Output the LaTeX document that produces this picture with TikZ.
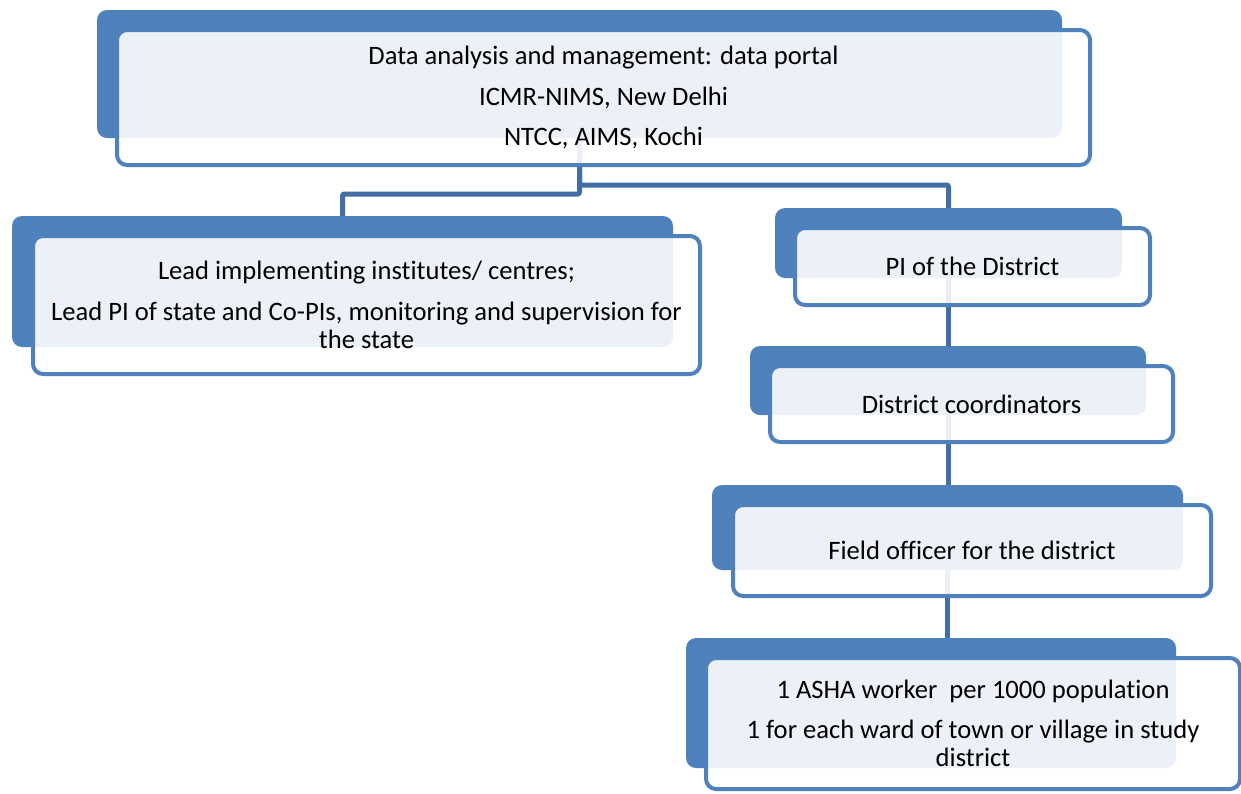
\documentclass[tikz,border=0pt]{standalone}
\usepackage{fontspec}
\setmainfont{Carlito}[Ligatures=NoCommon]
\pgfdeclarelayer{bg}
\pgfsetlayers{bg,main}
\definecolor{boxblue}{RGB}{79,129,189}
\definecolor{connblue}{RGB}{66,110,166}
\tikzset{
  backbox/.style={fill=boxblue, draw=none, rounded corners=10pt, inner sep=0pt},
  frontbox/.style={draw=boxblue, line width=4pt, fill=white, fill opacity=0.89, draw opacity=1, text opacity=1,
    rounded corners=10pt, inner sep=0pt, align=center, font=\fontsize{26.6}{28}\selectfont},
  conn/.style={draw=connblue, line width=5pt, rounded corners=2pt},
}
\newcommand{\pgap}{\\[12.5pt]}
\begin{document}
\begin{tikzpicture}[x=1pt,y=-1pt]
\useasboundingbox (0,0) rectangle (1241,793);
% back boxes
\node[backbox, minimum width=965pt, minimum height=128pt] (b1) at (579.5,74) {};
\node[backbox, minimum width=661pt, minimum height=131pt] (b2) at (342.5,281.5) {};
\node[backbox, minimum width=347pt, minimum height=70pt] (b3) at (948.5,243) {};
\node[backbox, minimum width=396pt, minimum height=69pt] (b4) at (948,380.5) {};
\node[backbox, minimum width=471pt, minimum height=85pt] (b5) at (947.5,527.5) {};
\node[backbox, minimum width=490pt, minimum height=130pt] (b6) at (931,703) {};
% front boxes
\node[frontbox, minimum width=973pt, minimum height=135pt] (f1) at (603.5,97.5)
  {Data analysis and management: data portal\pgap ICMR-NIMS, New Delhi\pgap NTCC, AIMS, Kochi};
\node[frontbox, minimum width=667pt, minimum height=138pt] (f2) at (366.5,305)
  {Lead implementing institutes/ centres;\pgap Lead PI of state and Co-PIs, monitoring and supervision for\\ the state};
\node[frontbox, minimum width=355pt, minimum height=77pt] (f3) at (972.5,266.5)
  {PI of the District};
\node[frontbox, minimum width=403pt, minimum height=76pt] (f4) at (971.5,404)
  {District coordinators};
\node[frontbox, minimum width=478pt, minimum height=91pt] (f5) at (972,550.5)
  {Field officer for the district};
\node[frontbox, minimum width=534pt, minimum height=131pt] (f6) at (973,723.5)
  {1 ASHA worker~ per 1000 population\pgap 1 for each ward of town or village in study\\ district};
% connectors
\coordinate (jl) at (579.5,194);
\coordinate (jr) at (579.5,185);
\begin{pgfonlayer}{bg}
\draw[conn] (b1.center) -- (jl) -| (b2.center);
\draw[conn] (b1.center) -- (jr) -| (b3.center);
\draw[conn] (b3.center) -- (b3.center |- b4.north);
\draw[conn] (b4.center) -- (b4.center |- b5.north);
\draw[conn] (b5.center) -- (b5.center |- b6.north);
\end{pgfonlayer}
\end{tikzpicture}
\end{document}
